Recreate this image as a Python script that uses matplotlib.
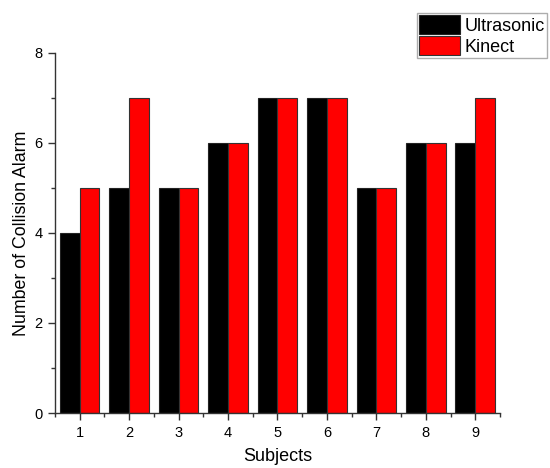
import numpy as np
import matplotlib.pyplot as plt
from matplotlib.ticker import MultipleLocator

plt.rcParams['font.family'] = ['Liberation Sans', 'DejaVu Sans']

# data
subjects = [1, 2, 3, 4, 5, 6, 7, 8, 9]
ultrasonic = [4, 5, 5, 6, 7, 7, 5, 6, 6]
kinect = [5, 7, 5, 6, 7, 7, 5, 6, 7]

x = np.array(subjects)
w = 0.4

fig = plt.figure(figsize=(5.5, 4.68), dpi=100)
ax = fig.add_axes([0.1, 0.1175, 0.809, 0.77])

ax.bar(x - w / 2, ultrasonic, w, color='black', edgecolor='#222222',
       linewidth=0.8, label='Ultrasonic')
ax.bar(x + w / 2, kinect, w, color='#ff0000', edgecolor='#333333',
       linewidth=0.8, label='Kinect')

ax.set_xlim(0.5, 9.5)
ax.set_ylim(0, 8)
ax.set_xticks(subjects)
ax.xaxis.set_minor_locator(MultipleLocator(0.5))
ax.yaxis.set_major_locator(MultipleLocator(2))
ax.yaxis.set_minor_locator(MultipleLocator(1))

for s in ['top', 'right']:
    ax.spines[s].set_visible(False)
for s in ['left', 'bottom']:
    ax.spines[s].set_linewidth(1.0)
    ax.spines[s].set_color('#333333')

ax.tick_params(which='major', direction='out', length=5, width=1.0,
               labelsize=10.5, color='#333333', pad=4)
ax.tick_params(which='minor', direction='out', length=3, width=1.0,
               color='#333333')

ax.set_xlabel('Subjects', fontsize=13, labelpad=6)
ax.set_ylabel('Number of Collision Alarm', fontsize=12.8, labelpad=3)

leg = fig.legend(loc='upper left', bbox_to_anchor=(417 / 550, 1 - 13 / 468),
                 fontsize=13, frameon=True, fancybox=False,
                 handlelength=2.25, handleheight=1.2, handletextpad=0.25,
                 borderpad=0.12, labelspacing=0.1, borderaxespad=0)
leg.get_frame().set_edgecolor('#999999')
leg.get_frame().set_linewidth(1.0)

fig.savefig('out.png', dpi=100)
